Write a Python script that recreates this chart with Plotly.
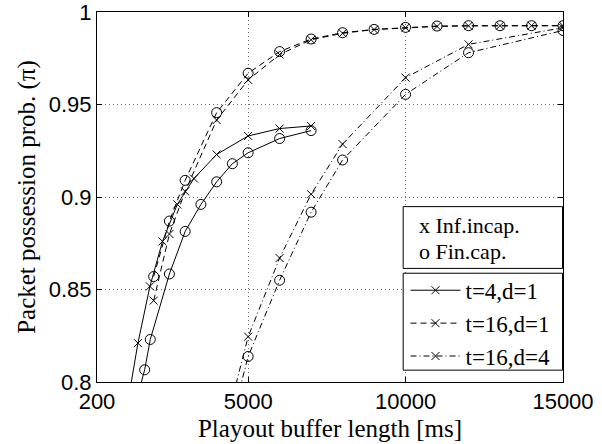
import plotly.graph_objects as go

# Playout buffer length [ms] and packet possession probability for each case
x_t4d1_inf = [1000, 1500, 1880, 2280, 2750, 3280, 4000, 5000, 6000, 7000]
y_t4d1_inf = [0.771, 0.821, 0.8517, 0.876, 0.896, 0.910, 0.923, 0.933, 0.937, 0.9384]

x_t4d1_fin = [1500, 1714, 1892, 2500, 3000, 3500, 4000, 4500, 5000, 6000, 7000]
y_t4d1_fin = [0.793, 0.8066, 0.823, 0.8584, 0.8814, 0.896, 0.9082, 0.918, 0.9239, 0.9316, 0.9359]

x_t16d1 = [2000, 2500, 3000, 4000, 5000, 6000, 7000, 8000, 9000, 10000,
           11000, 12000, 13000, 14000, 15000]
y_t16d1_inf = [0.844, 0.880, 0.903, 0.9416, 0.9633, 0.977, 0.985, 0.9885, 0.9905,
               0.9915, 0.9922, 0.9925, 0.9926, 0.9926, 0.9926]
y_t16d1_fin = [0.857, 0.887, 0.909, 0.9456, 0.9669, 0.9786, 0.9854, 0.9888, 0.9906,
               0.9917, 0.9924, 0.9926, 0.9926, 0.9926, 0.9926]

x_t16d4 = [4000, 5000, 6000, 7000, 8000, 10000, 12000, 15000]
y_t16d4_inf = [0.758, 0.8245, 0.867, 0.9015, 0.9286, 0.9645, 0.9825, 0.9915]
y_t16d4_fin = [0.748, 0.8138, 0.855, 0.8918, 0.920, 0.9555, 0.978, 0.990]

x_ticks = [200, 5000, 10000, 15000]
x_tick_text = ["200", "5000", "10000", "15000"]
y_ticks = [0.8, 0.85, 0.9, 0.95, 1.0]
y_tick_text = ["0.8", "0.85", "0.9", "0.95", "1"]

SANS = "Liberation Sans"
SERIF = "Liberation Serif"

DASH = "6px,4px"
DASHDOT = "6px,3px,1px,3px"

series = [
    # (x, y, dash, marker symbol, legend name or None)
    (x_t4d1_inf, y_t4d1_inf, "solid", "x-thin-open", "t=4,d=1"),
    (x_t4d1_fin, y_t4d1_fin, "solid", "circle-open", None),
    (x_t16d1, y_t16d1_inf, DASH, "x-thin-open", "t=16,d=1"),
    (x_t16d1, y_t16d1_fin, DASH, "circle-open", None),
    (x_t16d4, y_t16d4_inf, DASHDOT, "x-thin-open", "t=16,d=4"),
    (x_t16d4, y_t16d4_fin, DASHDOT, "circle-open", None),
]

fig = go.Figure()
for xs, ys, dash, sym, name in series:
    is_x = sym.startswith("x")
    fig.add_trace(go.Scatter(
        x=xs, y=ys, mode="lines+markers",
        name=name if name else "",
        showlegend=name is not None,
        line=dict(color="black", width=1, dash=dash),
        marker=dict(symbol=sym, size=8 if is_x else 10, color="black",
                    line=dict(color="black", width=1)),
    ))

axis_common = dict(
    showline=True, linecolor="black", linewidth=1, mirror="ticks",
    ticks="inside", ticklen=5, tickcolor="black", tickwidth=1,
    showgrid=True, gridcolor="#6e6e6e", gridwidth=1, griddash="1px,3px",
    zeroline=False, automargin=False, ticklabeloverflow="allow",
    tickfont=dict(family=SANS, size=22, color="black"),
)

fig.update_xaxes(range=[200, 15000], tickmode="array", tickvals=x_ticks,
                 ticktext=x_tick_text,
                 title=dict(text="Playout buffer length [ms]",
                            font=dict(family=SERIF, size=25, color="black"),
                            standoff=6),
                 **axis_common)
fig.update_yaxes(range=[0.8, 1.0], tickmode="array", tickvals=y_ticks,
                 ticktext=y_tick_text,
                 title=dict(text="Packet possession prob. (\u03c0)",
                            font=dict(family=SERIF, size=25, color="black"),
                            standoff=6),
                 **axis_common)

# Legend frames: marker key on top, line styles below
fig.add_shape(type="rect", xref="paper", yref="paper",
              x0=0.657, x1=0.999, y0=0.307, y1=0.474,
              line=dict(color="black", width=1), fillcolor="white", layer="above")
fig.add_shape(type="rect", xref="paper", yref="paper",
              x0=0.657, x1=0.999, y0=0.032, y1=0.294,
              line=dict(color="black", width=1), fillcolor="white", layer="above")

for text, yy in [("x Inf.incap.", 0.424), ("o Fin.cap.", 0.352)]:
    fig.add_annotation(text=text, xref="paper", yref="paper", x=0.687, y=yy,
                       xanchor="left", yanchor="middle", showarrow=False,
                       font=dict(family=SERIF, size=22, color="black"))

fig.update_layout(
    width=602, height=444,
    margin=dict(l=97, r=39, t=12, b=62),
    paper_bgcolor="white", plot_bgcolor="white",
    legend=dict(x=0.662, y=0.306, xanchor="left", yanchor="top",
                bgcolor="rgba(0,0,0,0)", borderwidth=0,
                font=dict(family=SERIF, size=23, color="black"),
                itemwidth=50, tracegroupgap=0),
)

fig.write_html("out.html")
